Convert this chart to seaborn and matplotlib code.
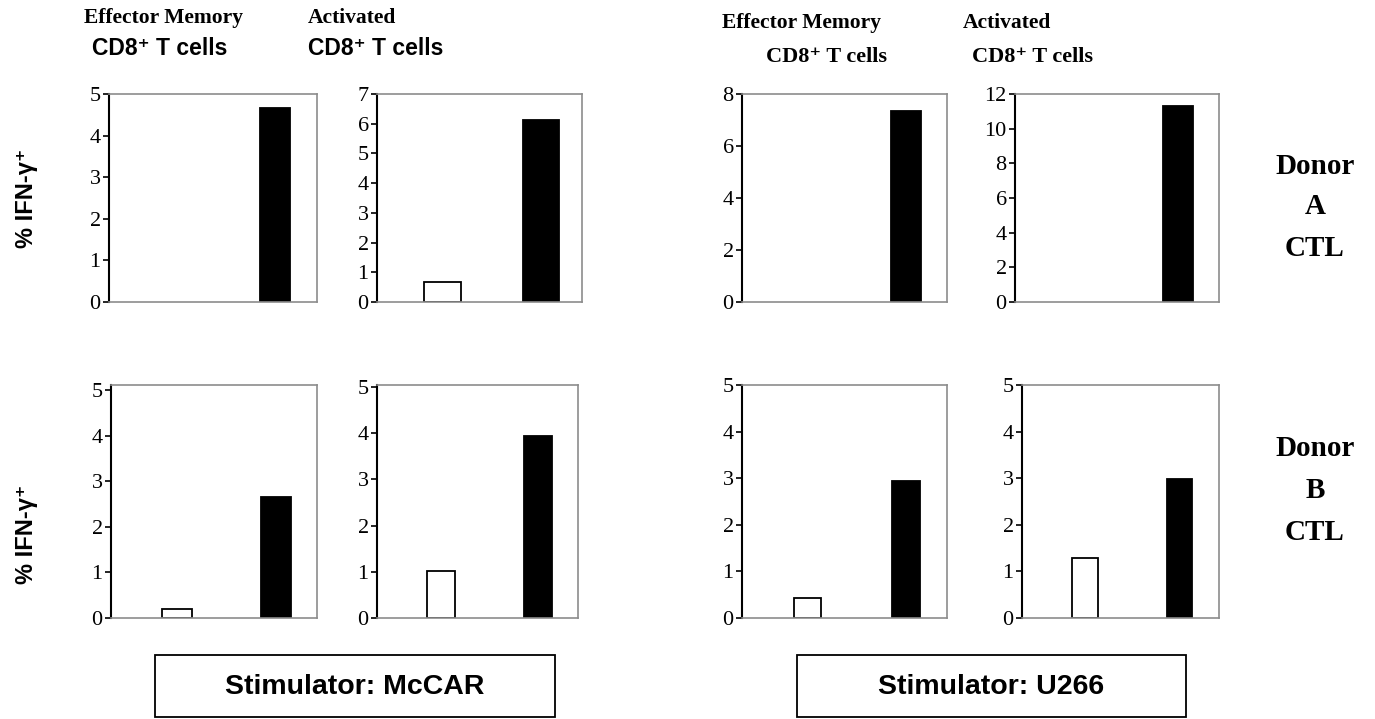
import matplotlib
matplotlib.use("Agg")
import matplotlib.pyplot as plt
from matplotlib.patches import Rectangle
import seaborn as sns
import pandas as pd

# ---------------- data ----------------
conditions = ["Control", "Stimulated"]
bar_colors = ["white", "black"]

donorA_values = [[0.0, 4.66], [0.68, 6.12], [0.0, 7.33], [0.0, 11.3]]
donorB_values = [[0.19, 2.66], [1.02, 3.93], [0.42, 2.94], [1.28, 2.98]]

donorA_ticks = [[0, 1, 2, 3, 4, 5], [0, 1, 2, 3, 4, 5, 6, 7], [0, 2, 4, 6, 8], [0, 2, 4, 6, 8, 10, 12]]
donorB_ticks = [[0, 1, 2, 3, 4, 5]] * 4

title_line1 = ["Effector Memory", "Activated", "Effector Memory", "Activated"]
title_line2 = ["CD8\u207a T cells"] * 4
ylabel_text = "% IFN-\u03b3\u207a"
donor_labels = [["Donor", "A", "CTL"], ["Donor", "B", "CTL"]]
stimulators = ["Stimulator: McCAR", "Stimulator: U266"]

# ---------------- layout ----------------
W, H = 1375, 719
sns.set_theme(style="white")
plt.rcParams["font.family"] = ["Liberation Serif", "DejaVu Serif"]
plt.rcParams["text.color"] = "black"
plt.rcParams["axes.labelcolor"] = "black"
plt.rcParams["xtick.color"] = "black"
plt.rcParams["ytick.color"] = "black"

fig = plt.figure(figsize=(W / 100, H / 100), dpi=100)
fig.patch.set_facecolor("white")

SERIF = ["Liberation Serif", "DejaVu Serif"]
SANS = ["Liberation Sans", "DejaVu Sans"]


def fx(x):
    return x / W


def fy(y):
    return 1 - y / H


def axes_px(x0, x1, ytop, ybot):
    return fig.add_axes([fx(x0), fy(ybot), (x1 - x0) / W, (ybot - ytop) / H])


top_cols = [(109, 317), (377, 582), (742, 947), (1015, 1219)]
bot_cols = [(111, 317), (377, 578), (742, 947), (1022, 1219)]
top_rows = (94, 302)
bot_rows = (385, 618)
bar_widths_top = [0.30, 0.37, 0.30, 0.31]
bar_widths_bot = [0.30, 0.29, 0.28, 0.27]
ytop_B = [5.12, 5.04, 5.0, 5.0]


def draw_panel(ax, values, ticks, width, ytop):
    df = pd.DataFrame({"cond": conditions, "val": values})
    sns.barplot(data=df, x="cond", y="val", hue="cond", palette=bar_colors,
                order=conditions, hue_order=conditions, legend=False,
                width=width, edgecolor="black", linewidth=1.3, ax=ax,
                dodge=False)
    for p in ax.patches:
        if p.get_height() == 0:
            p.set_visible(False)
    ax.set_xlim(-0.667, 1.417)
    ax.set_ylim(0, ytop)
    ax.set_yticks(ticks)
    ax.set_yticklabels([str(t) for t in ticks], fontsize=16, family=SERIF,
                       color="black")
    ax.set_xticks([])
    ax.set_xlabel("")
    ax.set_ylabel("")
    ax.tick_params(axis="y", direction="out", length=4, width=1.2,
                   color="black", pad=2, left=True)
    for s in ["top", "right", "bottom"]:
        ax.spines[s].set_color("#8c8c8c")
        ax.spines[s].set_linewidth(1.2)
    ax.spines["left"].set_color("black")
    ax.spines["left"].set_linewidth(1.5)
    ax.set_facecolor("white")


for i in range(4):
    ax = axes_px(top_cols[i][0], top_cols[i][1], *top_rows)
    draw_panel(ax, donorA_values[i], donorA_ticks[i], bar_widths_top[i], donorA_ticks[i][-1])
    ax = axes_px(bot_cols[i][0], bot_cols[i][1], *bot_rows)
    draw_panel(ax, donorB_values[i], donorB_ticks[i], bar_widths_bot[i], ytop_B[i])

# ---------------- titles ----------------
t1_pos = [(164, 23), (352, 23), (802, 28), (1007, 28)]
t2_pos = [(160, 55), (376, 55), (826, 62), (1033, 62)]
t2_family = [SANS, SANS, SERIF, SERIF]
t2_size = [16.5, 16.5, 16, 16]
for i in range(4):
    fig.text(fx(t1_pos[i][0]), fy(t1_pos[i][1]), title_line1[i], ha="center",
             va="baseline", fontsize=15.5, fontweight="bold", family=SERIF,
             color="black")
    fig.text(fx(t2_pos[i][0]), fy(t2_pos[i][1]), title_line2[i], ha="center",
             va="baseline", fontsize=t2_size[i], fontweight="bold",
             family=t2_family[i], color="black")

# ---------------- y labels ----------------
for yc in (198, 534):
    fig.text(fx(26), fy(yc), ylabel_text, rotation=90, ha="center", va="center",
             fontsize=17, fontweight="bold", family=SANS, color="black")

# ---------------- donor labels ----------------
donor_y = [[166, 207, 249], [449, 490, 532]]
for lab, ys in zip(donor_labels, donor_y):
    for txt, yy in zip(lab, ys):
        fig.text(fx(1315), fy(yy), txt, ha="center", va="center",
                 fontsize=21, fontweight="bold", family=SERIF, color="black")

# ---------------- stimulator boxes ----------------
boxes = [(155, 555), (797, 1186)]
for (x0, x1), lab in zip(boxes, stimulators):
    rect = Rectangle((fx(x0), fy(717)), (x1 - x0) / W, (717 - 655) / H,
                     transform=fig.transFigure, fill=False, edgecolor="black",
                     linewidth=1.3)
    fig.add_artist(rect)
    fig.text(fx((x0 + x1) / 2), fy(687), lab, ha="center", va="center",
             fontsize=20.5, fontweight="bold", family=SANS, color="black")

fig.savefig("out.png", dpi=100, facecolor="white")
